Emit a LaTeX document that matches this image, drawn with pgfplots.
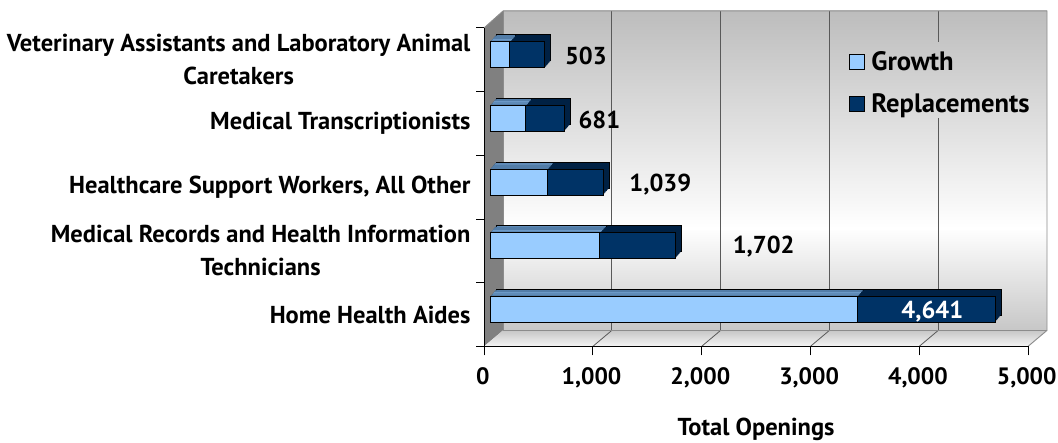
\documentclass[border=0pt]{standalone}
\usepackage{fontspec}
\setmainfont{PT Sans}
\usepackage{pgfplots}
\usepackage{pgfplotstable}
\pgfplotsset{compat=1.18}
\definecolor{growth}{RGB}{153,204,255}
\definecolor{growthtop}{RGB}{108,153,199}
\definecolor{repl}{RGB}{0,51,102}
\definecolor{repltop}{RGB}{0,33,68}
\pgfdeclareverticalshading{wall}{100bp}{color(0bp)=(black!22); color(25bp)=(black!22); color(41bp)=(white); color(75bp)=(black!26); color(100bp)=(black!26)}
\pgfdeclareverticalshading{floorsh}{100bp}{color(0bp)=(white!96!black); color(25bp)=(white!96!black); color(75bp)=(black!22); color(100bp)=(black!22)}

% cat: 0 = Home Health Aides ... 4 = Veterinary Assistants
\pgfplotstableread{
cat growth total
0 3375 4641
1 1010 1702
2 527 1039
3 327 681
4 181 503
}\openings

\newcommand{\lblfont}{\bfseries\fontsize{18.4}{25}\selectfont}
\newcommand{\xtfont}{\bfseries\fontsize{17.8}{24}\selectfont}
\newcommand{\legfont}{\bfseries\fontsize{20}{24}\selectfont}

\begin{document}
\begin{tikzpicture}
\useasboundingbox (-363.75pt,-72pt) rectangle (431.25pt,260.25pt);
% back wall, left wall, floor
\shade[shading=wall] (14.25pt,12pt) rectangle (423pt,252pt);
\fill[black!50] (0pt,0pt) -- (0pt,239.25pt) -- (14.25pt,252pt) -- (14.25pt,12pt) -- cycle;
\shade[shading=floorsh] (0pt,0pt) -- (408.75pt,0pt) -- (423pt,12pt) -- (14.25pt,12pt) -- cycle;
\foreach \k in {1,2,3} {
  \draw[black!65, line width=0.6pt] (14.25pt+\k*81.75pt,12pt) -- (14.25pt+\k*81.75pt,252pt);
}
\draw[black!65, line width=0.6pt] (341.25pt,12pt) -- (341.25pt,171.75pt);
\draw[black!65, line width=0.6pt] (341.25pt,228.75pt) -- (341.25pt,252pt);
\foreach \k in {1,2,3,4} {
  \draw[black!65, line width=0.6pt] (\k*81.75pt,0pt) -- (14.25pt+\k*81.75pt,12pt);
}
\draw[black!45, line width=0.7pt] (0pt,239.25pt) -- (14.25pt,252pt) -- (423pt,252pt) -- (423pt,12pt) -- (408.75pt,0pt);
\draw[black!45, line width=0.7pt] (14.25pt,252pt) -- (14.25pt,12pt) -- (423pt,12pt);

\begin{axis}[
  at={(0pt,0pt)}, anchor=south west,
  scale only axis, width=408.75pt, height=239.25pt,
  xmin=0, xmax=5000, ymin=-0.5, ymax=4.5,
  clip=false,
  axis x line*=bottom, axis y line*=left,
  axis line style={black, line width=0.7pt},
  every tick/.style={black, line width=0.7pt},
  tick align=outside,
  major tick length=6.75pt,
  minor tick length=6pt,
  xtick={0,1000,2000,3000,4000,5000},
  xticklabels={0,{1,000},{2,000},{3,000},{4,000},{5,000}},
  ytick={0,1,2,3,4},
  yticklabels={Home Health Aides,{Medical Records and Health Information\\Technicians},{Healthcare Support Workers, All Other},Medical Transcriptionists,{Veterinary Assistants and Laboratory Animal\\Caretakers}},
  major y tick style={draw=none},
  minor ytick={-0.5,0.5,1.5,2.5,3.5,4.5},
  yticklabel style={font=\lblfont, align=center},
  xticklabel style={font=\xtfont, yshift=-6pt, xshift=-1pt},
  xlabel={Total Openings},
  xlabel style={font=\lblfont, yshift=-15pt},
  legend image code/.code={\draw[#1] (0pt,-5.625pt) rectangle (11.25pt,5.625pt);},
  legend style={at={(0.67,0.935)}, anchor=north west, draw=none, fill=none,
    font=\legfont, row sep=11.5pt, inner sep=0pt, legend cell align=left,
    /tikz/every odd column/.append style={column sep=3pt}},
]
% back layer with outline
\addplot[xbar, bar shift=0pt, bar width=19.5pt, fill=repltop, draw=black, line width=0.6pt, forget plot,
  xshift=9pt, yshift=9pt] table[x=total, y=cat] {\openings};
\addplot[xbar, bar shift=0pt, bar width=19.5pt, fill=growthtop, draw=black, line width=0.6pt, forget plot,
  xshift=9pt, yshift=9pt] table[x=growth, y=cat] {\openings};
% extrusion layers
\pgfplotsinvokeforeach{7,6,5,4,3,2,1}{
\addplot[xbar, bar shift=0pt, bar width=19.5pt, fill=repltop, draw=none, forget plot,
  xshift={4.5pt+#1*0.5625pt}, yshift={3.75pt+#1*0.65625pt}] table[x=total, y=cat] {\openings};
\addplot[xbar, bar shift=0pt, bar width=19.5pt, fill=growthtop, draw=none, forget plot,
  xshift={4.5pt+#1*0.5625pt}, yshift={3.75pt+#1*0.65625pt}] table[x=growth, y=cat] {\openings};
}
% front faces
\addplot[xbar, bar shift=0pt, bar width=19.5pt, fill=repl, draw=black, line width=0.7pt, forget plot,
  xshift=4.5pt, yshift=3.75pt] table[x=total, y=cat] {\openings};
\addplot[xbar, bar shift=0pt, bar width=19.5pt, fill=growth, draw=black, line width=0.7pt, forget plot,
  xshift=4.5pt, yshift=3.75pt] table[x=growth, y=cat] {\openings};

\addlegendimage{fill=growth, draw=black, line width=0.7pt}
\addlegendentry{Growth}
\addlegendimage{fill=repl, draw=black, line width=0.7pt}
\addlegendentry{Replacements}

% data labels (totals)
\node[font=\lblfont] at (axis cs:936,4.06) {503};
\node[font=\lblfont] at (axis cs:1060,3.06) {681};
\node[font=\lblfont] at (axis cs:1620,2.04) {1,039};
\node[font=\lblfont] at (axis cs:2570,1.07) {1,702};
\node[font=\lblfont, text=white] at (axis cs:4120,0.05) {4,641};
\end{axis}
\end{tikzpicture}
\end{document}
